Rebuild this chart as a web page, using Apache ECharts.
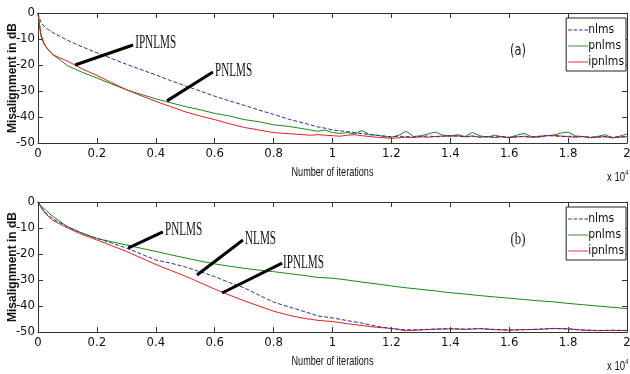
<!DOCTYPE html>
<html>
<head>
<meta charset="utf-8">
<script src="https://cdn.jsdelivr.net/npm/echarts@6/dist/echarts.min.js"></script>
<style>
  html, body { margin: 0; padding: 0; background: #fff; }
  #container { width: 630px; height: 374px; }
</style>
</head>
<body>
<div id="container"></div>
<script>
const dom = document.getElementById('container')
const myChart = echarts.init(dom)

// (a) iteration axis (x 10^4) and misalignment curves in dB
const itersA = [
  0, 0.005, 0.01, 0.02, 0.03, 0.05, 0.075, 0.1, 0.15, 0.2, 0.25, 0.3, 0.35, 0.4, 0.45, 0.5,
  0.55, 0.6, 0.65, 0.7, 0.75, 0.8, 0.85, 0.9,
  0.925, 0.95, 0.975, 1, 1.025, 1.05, 1.075, 1.1, 1.125, 1.15, 1.175, 1.2, 1.225, 1.25,
  1.275, 1.3, 1.325, 1.35, 1.375, 1.4, 1.425, 1.45, 1.475, 1.5, 1.525, 1.55, 1.575, 1.6,
  1.625, 1.65, 1.675, 1.7, 1.725, 1.75, 1.775, 1.8, 1.825, 1.85, 1.875, 1.9, 1.925, 1.95,
  1.975, 2
]
const nlmsA = [
  0, -2, -3.5, -5, -6, -7.5, -9, -10.5, -13, -15.3, -17.5, -19.7, -21.8, -23.8, -26, -28,
  -30, -32, -33.8, -35.5, -37.3, -39, -40.8, -42.3,
  -43, -43.8, -44.3, -45, -45.3, -45.6, -46, -46.4, -46.7, -47, -47.3, -47.6, -47.4, -47.5,
  -47.7, -47.5, -47.3, -47.6, -47.4, -47.2, -47.4, -47.6, -47.4, -47.7, -47.5, -47.7, -47.5, -47.8,
  -47.5, -47.6, -47.7, -47.4, -47.2, -47.3, -47.5, -47.4, -47.6, -47.5, -47.8, -47.6, -47.5, -47.8,
  -47.6, -47.5
]
const pnlmsA = [
  0, -5, -9, -12, -13.5, -16, -18, -20.3, -22.8, -25, -27.3, -29.5, -31.3, -33, -34.5, -36,
  -37.2, -38.6, -39.6, -41, -41.8, -43, -43.6, -44.5,
  -45, -45.5, -45, -46, -46.3, -46, -46.5, -45.2, -46.8, -47, -47.5, -47.8, -47, -45.5,
  -47.5, -47.2, -46.5, -45.8, -47, -47.3, -46.8, -47.5, -46, -47.2, -47.8, -47, -47.6, -47.9,
  -47, -46.3, -47.5, -47.8, -47.2, -47, -46.2, -45.8, -47.3, -47.5, -47.9, -47.5, -46.8, -48,
  -47.4, -46.5
]
const ipnlmsA = [
  0, -4, -8, -11.5, -13.5, -16, -17.3, -18.5, -21.5, -24, -26.8, -29.5, -31.8, -34, -36, -38,
  -39.6, -41, -42.6, -44, -45, -46, -46.4, -46.8,
  -47, -46.8, -47, -47.2, -47.4, -47, -46.8, -47.2, -47.5, -47.8, -48, -48.2, -48, -47.8,
  -47.9, -47.6, -47.8, -47.5, -47.3, -47.4, -47.2, -47.6, -47.3, -47.8, -47.5, -47.9, -47.6, -48,
  -47.7, -47.4, -47.8, -47.5, -47.2, -47, -47.3, -47.6, -47.8, -47.5, -48, -47.8, -47.6, -48,
  -47.8, -47.6
]

// (b)
const itersB = [
  0, 0.01, 0.025, 0.05, 0.075, 0.1, 0.15, 0.2, 0.25, 0.3, 0.35, 0.4, 0.45, 0.5, 0.55, 0.6,
  0.65, 0.7, 0.75, 0.8, 0.85, 0.9, 0.95, 1, 1.05, 1.1, 1.15, 1.2, 1.25, 1.3, 1.35, 1.4,
  1.45, 1.5, 1.55, 1.6, 1.65, 1.7, 1.75, 1.8, 1.85, 1.9, 1.95, 2
]
const nlmsB = [
  0, -2, -4, -6.5, -8, -9.5, -12, -14, -15.8, -17.7, -20, -22.3, -23.5, -25, -26.8, -28.7,
  -31, -33, -35.8, -38.5, -40.3, -42, -43.8, -44.6, -45.6, -46.6, -47.8, -48.7, -49.2, -49.1,
  -48.9, -48.7, -48.9, -48.7, -49, -49.2, -49.1, -48.9, -48.7, -48.8, -49.2, -49.4, -49.3, -49.4
]
const pnlmsB = [
  0, -1.5, -3, -5.5, -7.5, -9.5, -12, -14, -15.3, -16.5, -17.8, -19, -20.3, -21.5, -22.7, -23.8,
  -24.7, -25.5, -26.2, -26.8, -27.5, -28.2, -29, -29.3, -30, -30.8, -31.5, -32.3, -33, -33.6,
  -34.2, -34.9, -35.4, -36, -36.5, -37, -37.5, -38, -38.4, -39, -39.5, -40, -40.5, -41
]
const ipnlmsB = [
  0, -2, -4.5, -7, -8.5, -10, -12.5, -14.6, -16.8, -19, -21.5, -24, -26.3, -28.5, -31, -33.5,
  -35.8, -38, -40, -42, -43.5, -44.7, -45.5, -46, -46.8, -47.5, -48.2, -48.6, -49.5, -49.2,
  -48.9, -48.8, -49, -48.7, -49.1, -49.3, -49.1, -49, -48.6, -48.8, -49.3, -49.5, -49.4, -49.5
]

const seriesNames = ['nlms', 'pnlms', 'ipnlms']
const seriesColors = ['#2b2bb0', '#178a17', '#e02020']

// annotation arrows in data coordinates: [grid, label, textX, textY, fromX, fromY, toX, toY]
const notes = [
  [0, 'IPNLMS', 0.33, -11.5, 0.126, -20, 0.323, -12.3],
  [0, 'PNLMS', 0.601, -22.3, 0.438, -33.8, 0.594, -22.7],
  [1, 'PNLMS', 0.431, -10.8, 0.306, -17.7, 0.424, -11.5],
  [1, 'NLMS', 0.703, -14.2, 0.54, -28.1, 0.696, -14.6],
  [1, 'IPNLMS', 0.832, -23.5, 0.625, -35, 0.829, -23.5]
]

const narrow = '"DejaVu Sans Condensed", "Liberation Sans Narrow", sans-serif'
const zip = (xs, ys) => xs.map((x, i) => [x, ys[i]])

const grids = [
  { left: 38, right: 3, top: 13, height: 130, outerBoundsMode: 'none' },
  { left: 38, right: 3, top: 202, height: 130, outerBoundsMode: 'none' }
]

const xAxes = []
const yAxes = []
grids.forEach((g, gi) => {
  const base = {
    gridIndex: gi,
    type: 'value',
    axisLine: { onZero: false, lineStyle: { color: '#333', width: 1 } },
    axisTick: { inside: true, length: 5, lineStyle: { color: '#333' } },
    splitLine: { show: false }
  }
  xAxes.push(Object.assign({}, base, {
    position: 'bottom', min: 0, max: 2, interval: 0.2,
    axisLabel: {
      margin: 4, fontFamily: narrow, fontSize: 13, color: '#111',
      formatter: v => String(Math.round(v * 10) / 10)
    }
  }))
  xAxes.push(Object.assign({}, base, {
    position: 'top', min: 0, max: 2, interval: 0.2, axisLabel: { show: false }
  }))
  yAxes.push(Object.assign({}, base, {
    position: 'left', min: -50, max: 0, interval: 10,
    name: 'Misalignment in dB', nameLocation: 'middle', nameGap: 19, nameRotate: 90,
    nameMoveOverlap: false,
    nameTextStyle: { fontFamily: '"Liberation Sans", Arial, sans-serif', fontWeight: 'bold', fontSize: 12, color: '#111' },
    axisLabel: { margin: 3, fontFamily: narrow, fontSize: 13, color: '#111' }
  }))
  yAxes.push(Object.assign({}, base, {
    position: 'right', min: -50, max: 0, interval: 10, axisLabel: { show: false }
  }))
})

const data = [
  [zip(itersA, nlmsA), zip(itersA, pnlmsA), zip(itersA, ipnlmsA)],
  [zip(itersB, nlmsB), zip(itersB, pnlmsB), zip(itersB, ipnlmsB)]
]

const series = []
data.forEach((set, gi) => {
  set.forEach((d, si) => {
    series.push({
      name: seriesNames[si],
      type: 'line',
      xAxisIndex: gi * 2,
      yAxisIndex: gi * 2,
      data: d,
      showSymbol: false,
      symbol: 'none',
      animation: false,
      z: si === 0 ? 3 : 2,
      lineStyle: {
        color: seriesColors[si],
        width: 1,
        type: si === 0 ? [4, 2] : 'solid'
      },
      itemStyle: { color: seriesColors[si] }
    })
  })
})

const dashIcon = 'path://M0,0h4v1h-4z M6,0h4v1h-4z M12,0h4v1h-4z M18,0h4v1h-4z'
const solidIcon = 'path://M0,0h22v1h-22z'
const legendBase = {
  data: [
    { name: 'nlms', icon: dashIcon },
    { name: 'pnlms', icon: solidIcon },
    { name: 'ipnlms', icon: solidIcon }
  ],
  orient: 'vertical',
  right: 4,
  backgroundColor: '#fff',
  borderColor: '#222',
  borderWidth: 1,
  borderRadius: 0,
  padding: [6, 2, 3, 2],
  itemGap: 4,
  itemWidth: 20,
  itemHeight: 13,
  selectedMode: false,
  textStyle: { fontFamily: narrow, fontSize: 12, color: '#111', padding: [0, 0, 0, -5] }
}

const option = {
  backgroundColor: '#fff',
  animation: false,
  grid: grids,
  xAxis: xAxes,
  yAxis: yAxes,
  legend: [
    Object.assign({}, legendBase, { top: 18 }),
    Object.assign({}, legendBase, { top: 207 })
  ],
  series: series
}

myChart.setOption(option)

// texts and arrows placed through the axes
const graphics = []
grids.forEach((g, gi) => {
  const corner = myChart.convertToPixel({ gridIndex: gi }, [2, -50])
  const origin = myChart.convertToPixel({ gridIndex: gi }, [0, -50])
  graphics.push({
    type: 'text',
    x: (origin[0] + corner[0]) / 2,
    y: corner[1] + 29,
    scaleX: 0.7,
    style: {
      text: 'Number of iterations',
      fontFamily: '"Liberation Sans", Arial, sans-serif',
      fontSize: 13,
      fill: '#111',
      align: 'center',
      verticalAlign: 'middle'
    }
  })
  graphics.push({
    type: 'text',
    x: corner[0] - 20,
    y: corner[1] + 35,
    scaleX: 0.8,
    style: {
      text: '{b|x 10}{s|4}',
      verticalAlign: 'middle',
      rich: {
        b: { fontFamily: '"Liberation Sans", Arial, sans-serif', fontSize: 12, fill: '#111' },
        s: { fontFamily: '"Liberation Sans", Arial, sans-serif', fontSize: 7, fill: '#111', verticalAlign: 'top', padding: [0, 0, 9, 0] }
      }
    }
  })
  const mid = myChart.convertToPixel({ gridIndex: gi }, [1.63, -14.5])
  graphics.push({
    type: 'text',
    x: mid[0],
    y: mid[1],
    scaleX: 0.8,
    style: {
      text: gi === 0 ? '(a)' : '(b)',
      fontFamily: gi === 0 ? narrow : '"Liberation Serif", serif',
      fontSize: 16,
      fill: '#222',
      align: 'center',
      verticalAlign: 'middle'
    }
  })
})
notes.forEach(n => {
  const t = myChart.convertToPixel({ gridIndex: n[0] }, [n[2], n[3]])
  const p1 = myChart.convertToPixel({ gridIndex: n[0] }, [n[4], n[5]])
  const p2 = myChart.convertToPixel({ gridIndex: n[0] }, [n[6], n[7]])
  graphics.push({
    type: 'line',
    shape: { x1: p1[0], y1: p1[1], x2: p2[0], y2: p2[1] },
    style: { stroke: '#000', lineWidth: 3 },
    z: 10
  })
  graphics.push({
    type: 'text',
    x: t[0],
    y: t[1],
    scaleX: 0.62,
    z: 10,
    style: {
      text: n[1],
      fontFamily: '"Liberation Serif", "Times New Roman", serif',
      fontSize: 18,
      fill: '#111',
      align: 'left',
      verticalAlign: 'middle'
    }
  })
})
myChart.setOption({ graphic: graphics })
</script>
</body>
</html>
